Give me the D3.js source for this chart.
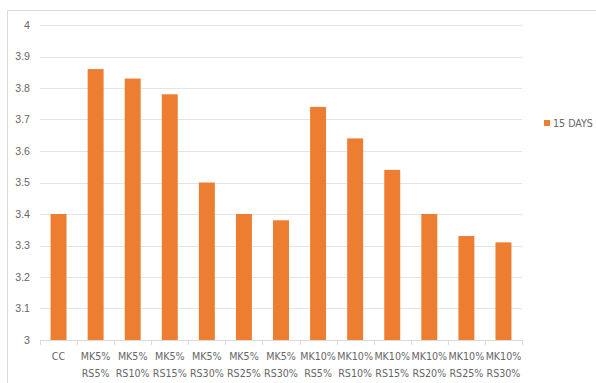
<!DOCTYPE html>
<html>
<head>
<meta charset="utf-8">
<script src="https://cdn.jsdelivr.net/npm/d3@7"></script>
<style>
  html, body { margin: 0; padding: 0; background: #fff; }
  svg { display: block; font-family: "Liberation Sans Narrow", "DejaVu Sans Condensed", Arial, sans-serif; }
</style>
</head>
<body>
<svg id="chart" width="596" height="383"></svg>
<script>
// Category labels (two lines each), series values and y tick values
const categories = [
  ["CC"],
  ["MK5%", "RS5%"], ["MK5%", "RS10%"], ["MK5%", "RS15%"], ["MK5%", "RS30%"],
  ["MK5%", "RS25%"], ["MK5%", "RS30%"],
  ["MK10%", "RS5%"], ["MK10%", "RS10%"], ["MK10%", "RS15%"], ["MK10%", "RS20%"],
  ["MK10%", "RS25%"], ["MK10%", "RS30%"]
];
const seriesName = "15 DAYS";
const values = [3.40, 3.86, 3.83, 3.78, 3.50, 3.40, 3.38, 3.74, 3.64, 3.54, 3.40, 3.33, 3.31];
const yTicks = [3, 3.1, 3.2, 3.3, 3.4, 3.5, 3.6, 3.7, 3.8, 3.9, 4];

const svg = d3.select("#chart");
const plot = { left: 40, right: 522, top: 25, bottom: 340 };
const barColor = "#ED7D31";
const textColor = "#666666";
const gridColor = "#e4e4e4";
const fontSize = "10.6px";

// chart area outline (top and left edges visible)
svg.append("path")
  .attr("d", "M7.5,383 L7.5,10.5 L596,10.5")
  .attr("fill", "none")
  .attr("stroke", "#d9d9d9")
  .attr("stroke-width", 1);

const x = d3.scaleBand()
  .domain(d3.range(categories.length))
  .range([plot.left, plot.right])
  .paddingInner(0.57)
  .paddingOuter(0.285);

const xStep = d3.scaleBand().domain(d3.range(categories.length)).range([plot.left, plot.right]);

const y = d3.scaleLinear().domain([3, 4]).range([plot.bottom, plot.top]);

// horizontal gridlines
svg.append("g")
  .selectAll("line")
  .data(yTicks.filter(t => t !== 3))
  .join("line")
  .attr("x1", plot.left)
  .attr("x2", plot.right)
  .attr("y1", d => Math.round(y(d)) + 0.5)
  .attr("y2", d => Math.round(y(d)) + 0.5)
  .attr("stroke", gridColor)
  .attr("stroke-width", 1);

// y axis labels
const yAxis = d3.axisLeft(y).tickValues(yTicks).tickSize(0).tickPadding(10)
  .tickFormat(d => d3.format("")(+d.toFixed(1)));
const yg = svg.append("g").attr("transform", `translate(${plot.left},0)`).call(yAxis);
yg.select(".domain").remove();
yg.selectAll("text").attr("fill", textColor).style("font-size", fontSize)
  .style("font-family", null);

// bars
svg.append("g")
  .selectAll("rect")
  .data(values)
  .join("rect")
  .attr("x", (d, i) => x(i))
  .attr("width", x.bandwidth())
  .attr("y", d => y(d))
  .attr("height", d => y(3) - y(d))
  .attr("fill", barColor);

// x axis baseline and category separator ticks
svg.append("line")
  .attr("x1", plot.left).attr("x2", plot.right)
  .attr("y1", plot.bottom + 0.5).attr("y2", plot.bottom + 0.5)
  .attr("stroke", "#d9d9d9");
svg.append("g")
  .selectAll("line")
  .data(d3.range(categories.length + 1))
  .join("line")
  .attr("x1", i => Math.round(plot.left + i * xStep.step()) + 0.5)
  .attr("x2", i => Math.round(plot.left + i * xStep.step()) + 0.5)
  .attr("y1", plot.bottom)
  .attr("y2", plot.bottom + 5)
  .attr("stroke", "#d9d9d9");

// category labels
const lab = svg.append("g")
  .selectAll("text")
  .data(categories)
  .join("text")
  .attr("text-anchor", "middle")
  .attr("fill", textColor)
  .style("font-size", fontSize);
lab.each(function(lines, i) {
  const cx = x(i) + x.bandwidth() / 2;
  d3.select(this).selectAll("tspan")
    .data(lines)
    .join("tspan")
    .attr("x", cx)
    .attr("y", (d, k) => 360 + k * 17)
    .text(d => d);
});

// legend
const legend = svg.append("g").attr("transform", "translate(544,120)");
legend.append("rect").attr("width", 6).attr("height", 6).attr("fill", barColor);
legend.append("text")
  .attr("x", 9).attr("y", 7)
  .attr("fill", textColor)
  .style("font-size", fontSize)
  .text(seriesName);
</script>
</body>
</html>
